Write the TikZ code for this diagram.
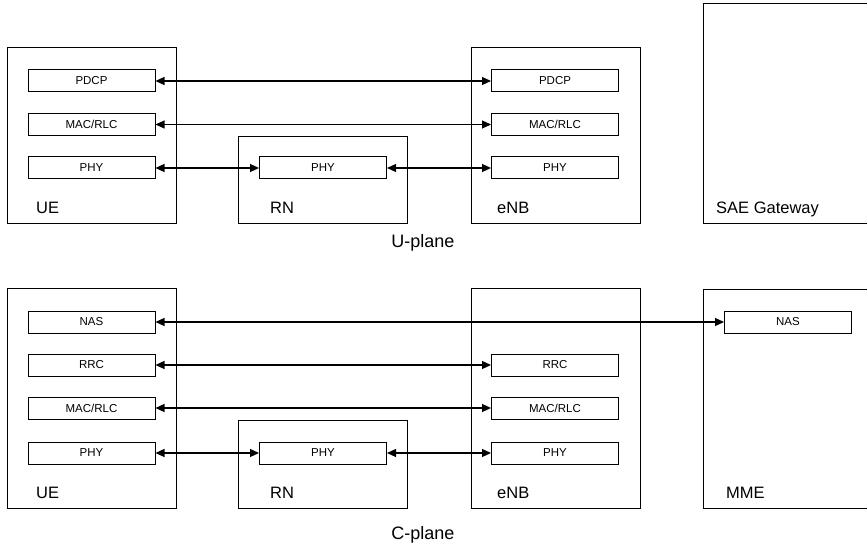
\documentclass[tikz,border=0pt]{standalone}
\usepackage{fontspec}
\setmainfont{Liberation Sans}
\usetikzlibrary{arrows.meta}
\tikzset{
  entity/.style={draw, line width=1.1pt, anchor=north west, inner sep=0pt},
  layer/.style={draw, line width=1pt, minimum width=127pt, minimum height=22pt, inner sep=0pt, font=\fontsize{11.5}{13}\selectfont},
  link/.style={{Triangle[length=9pt,width=8pt]}-{Triangle[length=9pt,width=8pt]}, line width=1.1pt},
  tag/.style={anchor=base west, inner sep=0pt, font=\fontsize{16.5}{19}\selectfont},
  plane/.style={font=\fontsize{18}{21}\selectfont}
}
\begin{document}
\begin{tikzpicture}[x=1pt, y=-1pt]
\useasboundingbox (0,0) rectangle (867,548);
% U-plane
\node[entity, minimum width=169pt, minimum height=176pt] (ueU) at (7,47) {};
\node[entity, minimum width=169pt, minimum height=87pt] (rnU) at (238,136) {};
\node[entity, minimum width=169pt, minimum height=176pt] (enbU) at (471,47) {};
\node[entity, minimum width=177pt, minimum height=220pt] (gw) at (703,3) {};
\node[tag] (ueUtag) at (36,214) {UE};
\node[tag] (rnUtag) at (270,214) {RN};
\node[tag] (enbUtag) at (497,214) {eNB};
\node[tag] (gwtag) at (716,214) {SAE Gateway};

\node[layer] (uePdcp) at (91.5,81) {PDCP};
\node[layer] (ueMacU) at (91.5,124.5) {MAC/RLC};
\node[layer] (uePhyU) at (91.5,168) {PHY};
\node[layer] (rnPhyU) at (323,168) {PHY};
\node[layer] (enbPdcp) at (555,81) {PDCP};
\node[layer] (enbMacU) at (555,124.5) {MAC/RLC};
\node[layer] (enbPhyU) at (555,168) {PHY};

\draw[link] (uePdcp.east)--(enbPdcp.west);
\draw[link] (ueMacU.east)--(enbMacU.west);
\draw[link] (uePhyU.east)--(rnPhyU.west);
\draw[link] (rnPhyU.east)--(enbPhyU.west);

\node[plane] (uplane) at (423,243) {U-plane};

% C-plane
\node[entity, minimum width=169pt, minimum height=220pt] (ueC) at (7,288) {};
\node[entity, minimum width=169pt, minimum height=88pt] (rnC) at (238,420) {};
\node[entity, minimum width=169pt, minimum height=220pt] (enbC) at (471,288) {};
\node[entity, minimum width=177pt, minimum height=219pt] (mme) at (703,289) {};
\node[tag] (ueCtag) at (36,498) {UE};
\node[tag] (rnCtag) at (270,498) {RN};
\node[tag] (enbCtag) at (497,498) {eNB};
\node[tag] (mmetag) at (726,498) {MME};

\node[layer] (ueNas) at (91.5,322) {NAS};
\node[layer] (ueRrc) at (91.5,365) {RRC};
\node[layer] (ueMacC) at (91.5,408) {MAC/RLC};
\node[layer] (uePhyC) at (91.5,453) {PHY};
\node[layer] (rnPhyC) at (323,453) {PHY};
\node[layer] (enbRrc) at (555,365) {RRC};
\node[layer] (enbMacC) at (555,408) {MAC/RLC};
\node[layer] (enbPhyC) at (555,453) {PHY};
\node[layer] (mmeNas) at (788,322) {NAS};

\draw[link] (ueNas.east)--(mmeNas.west);
\draw[link] (ueRrc.east)--(enbRrc.west);
\draw[link] (ueMacC.east)--(enbMacC.west);
\draw[link] (uePhyC.east)--(rnPhyC.west);
\draw[link] (rnPhyC.east)--(enbPhyC.west);

\node[plane] (cplane) at (423,535) {C-plane};
\end{tikzpicture}
\end{document}
